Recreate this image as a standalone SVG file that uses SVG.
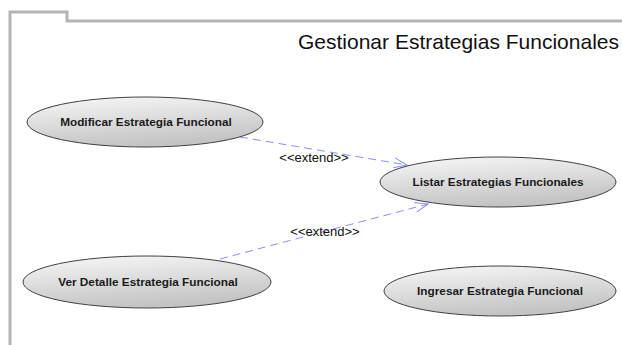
<svg xmlns="http://www.w3.org/2000/svg" width="622" height="345" viewBox="0 0 622 345">
<style>
.uc{stroke:#404040;stroke-width:1;fill:url(#g)}
.lbl{font-family:"Liberation Sans",Arial,sans-serif;font-weight:bold;font-size:11.8px;fill:#1a1a1a;text-anchor:middle}
.ext{font-family:"Liberation Sans",Arial,sans-serif;font-size:13px;fill:#111;text-anchor:middle}
.dep{stroke:#8c8cff;stroke-width:1;stroke-dasharray:8 5;fill:none}
</style>
<defs>
<linearGradient id="g" x1="0" y1="0" x2="0.3" y2="1">
<stop offset="0" stop-color="#f8f8f8"/>
<stop offset="1" stop-color="#c4c4c4"/>
</linearGradient>
<marker id="open" markerWidth="16" markerHeight="12" refX="14" refY="6" orient="auto" markerUnits="userSpaceOnUse">
<path d="M1,1 L14,6 L1,11" fill="none" stroke="#8c8cff" stroke-width="1"/>
</marker>
</defs>
<rect width="622" height="345" fill="#fff"/>
<g id="frame">
<path d="M10,345 V12 H67 V21 H622" fill="none" stroke="#b4b4b4" stroke-width="3"/>
<text x="619" y="49" font-family="Liberation Sans,Arial,sans-serif" font-size="21" text-anchor="end" fill="#111">Gestionar Estrategias Funcionales</text>
</g>
<g id="connectors">
<path class="dep" d="M240,137 L407,165" marker-end="url(#open)"/>
<path class="dep" d="M220,259 L428,204" marker-end="url(#open)"/>
<text class="ext" x="314" y="162">&lt;&lt;extend&gt;&gt;</text>
<text class="ext" x="325" y="236">&lt;&lt;extend&gt;&gt;</text>
</g>
<g id="modificar">
<ellipse class="uc" cx="145" cy="122" rx="118" ry="25"/>
<text class="lbl" x="146" y="126">Modificar Estrategia Funcional</text>
</g>
<g id="listar">
<ellipse class="uc" cx="498" cy="182" rx="118" ry="25"/>
<text class="lbl" x="498" y="186">Listar Estrategias Funcionales</text>
</g>
<g id="verdetalle">
<ellipse class="uc" cx="147" cy="282" rx="124" ry="26"/>
<text class="lbl" x="148" y="286">Ver Detalle Estrategia Funcional</text>
</g>
<g id="ingresar">
<ellipse class="uc" cx="500" cy="291" rx="116" ry="25"/>
<text class="lbl" x="500" y="295">Ingresar Estrategia Funcional</text>
</g>
</svg>
